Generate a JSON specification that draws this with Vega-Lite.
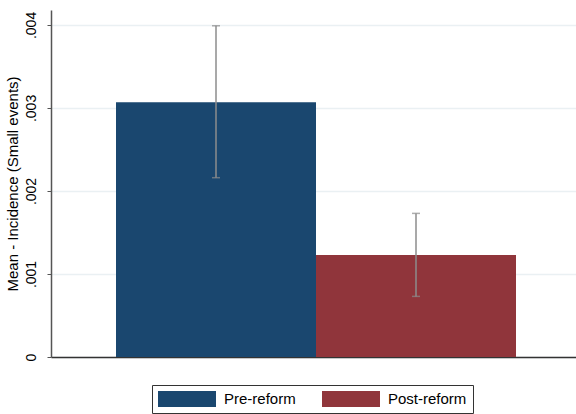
{
  "$schema": "https://vega.github.io/schema/vega-lite/v6.json",
  "autosize": {"type": "none"},
  "padding": {"left": 51, "top": 10, "right": 0, "bottom": 57},
  "width": 525,
  "height": 347,
  "background": "white",
  "config": {"view": {"stroke": null}, "font": "Liberation Sans"},
  "data": {
    "values": [
      {"period": "Pre-reform", "mean": 0.00307, "lo": 0.00216, "hi": 0.00399},
      {"period": "Post-reform", "mean": 0.00123, "lo": 0.00073, "hi": 0.00173}
    ]
  },
  "encoding": {
    "x": {
      "field": "period",
      "type": "nominal",
      "sort": ["Pre-reform", "Post-reform"],
      "scale": {"paddingInner": 0, "paddingOuter": 0.3125, "align": 0.52},
      "axis": {"title": null, "labels": false, "ticks": false, "grid": false, "domainColor": "#333333", "domainWidth": 1.5}
    }
  },
  "layer": [
    {
      "mark": {"type": "bar"},
      "encoding": {
        "y": {
          "field": "mean",
          "type": "quantitative",
          "scale": {"domain": [0, 0.00418], "nice": false},
          "axis": {
            "title": "Mean - Incidence (Small events)",
            "titleFontSize": 15,
            "titleFontWeight": "normal",
            "titleColor": "black",
            "titlePadding": 4,
            "values": [0, 0.001, 0.002, 0.003, 0.004],
            "labelExpr": "datum.value == 0 ? '0' : substring(format(datum.value, '.3f'), 1)",
            "labelAngle": 270,
            "labelAlign": "center",
            "labelBaseline": "bottom",
            "labelFontSize": 14,
            "labelColor": "black",
            "labelPadding": 9,
            "tickSize": 4,
            "tickColor": "#555555",
            "domainColor": "#555555",
            "domainWidth": 1.5,
            "gridColor": "#eaf0f3",
            "gridWidth": 1.5
          }
        },
        "color": {
          "field": "period",
          "type": "nominal",
          "sort": ["Pre-reform", "Post-reform"],
          "scale": {"domain": ["Pre-reform", "Post-reform"], "range": ["#1a476f", "#90353b"]},
          "legend": {
            "title": null,
            "orient": "none",
            "legendX": 101,
            "legendY": 375,
            "direction": "horizontal",
            "padding": 6,
            "strokeColor": "#333333",
            "symbolType": "M-1,-1H6.25V1H-1Z",
            "symbolSize": 256,
            "symbolStrokeWidth": 0,
            "symbolOpacity": 1,
            "labelFontSize": 15,
            "labelColor": "black",
            "labelOffset": 50,
            "columnPadding": 26
          }
        }
      }
    },
    {
      "mark": {"type": "rule", "color": "#8c8c8c", "strokeWidth": 1.5},
      "encoding": {
        "y": {"field": "lo", "type": "quantitative"},
        "y2": {"field": "hi"}
      }
    },
    {
      "mark": {"type": "tick", "orient": "horizontal", "size": 8, "thickness": 1.5, "color": "#8c8c8c"},
      "encoding": {"y": {"field": "hi", "type": "quantitative"}}
    },
    {
      "mark": {"type": "tick", "orient": "horizontal", "size": 8, "thickness": 1.5, "color": "#8c8c8c"},
      "encoding": {"y": {"field": "lo", "type": "quantitative"}}
    }
  ]
}
